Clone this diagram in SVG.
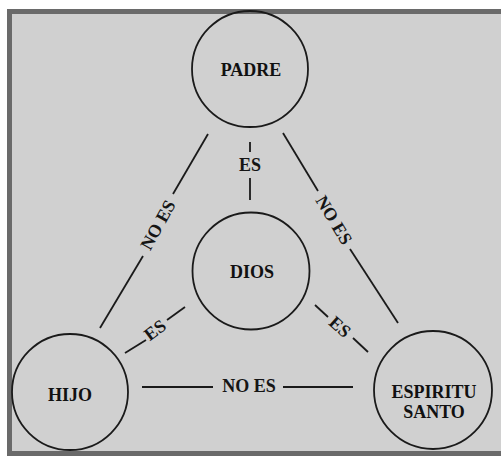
<svg xmlns="http://www.w3.org/2000/svg" width="501" height="457" viewBox="0 0 501 457">
<style>
.node circle{fill:none;stroke:#1a1a1a;stroke-width:1.8}
.nl{font-family:"Liberation Serif","Times New Roman",serif;font-weight:bold;font-size:18px;fill:#111;text-anchor:middle;dominant-baseline:central}
.cl{font-family:"Liberation Serif","Times New Roman",serif;font-weight:bold;font-size:18px;fill:#151515;text-anchor:middle;dominant-baseline:central}
#connectors line{stroke:#1a1a1a;stroke-width:1.8}
</style>
<rect x="0" y="0" width="501" height="457" fill="#ffffff"/>
<rect x="9.5" y="11.5" width="520" height="442" fill="#d0d0d0" stroke="#6a6a6a" stroke-width="5"/>
<g id="connectors">
  <line x1="208" y1="134" x2="173" y2="194"/>
  <line x1="143" y1="256" x2="100" y2="328"/>
  <line x1="283" y1="133" x2="318" y2="191"/>
  <line x1="350" y1="249" x2="398" y2="323"/>
  <line x1="250" y1="142" x2="250" y2="152"/>
  <line x1="250" y1="178" x2="250" y2="200"/>
  <line x1="125" y1="353" x2="146" y2="340"/>
  <line x1="167" y1="320" x2="185" y2="307"/>
  <line x1="315" y1="305" x2="328" y2="317"/>
  <line x1="353" y1="338" x2="368" y2="352"/>
  <line x1="142" y1="387" x2="213" y2="387"/>
  <line x1="283" y1="387" x2="353" y2="387"/>
  <text class="cl" transform="translate(158,225) rotate(-61)">NO ES</text>
  <text class="cl" transform="translate(334,220) rotate(59)">NO ES</text>
  <text class="cl" x="250" y="165">ES</text>
  <text class="cl" transform="translate(155,330) rotate(-37)">ES</text>
  <text class="cl" transform="translate(340,327) rotate(42)">ES</text>
  <text class="cl" x="249" y="386">NO ES</text>
</g>
<g id="padre" class="node"><circle cx="250" cy="69" r="58"/><text class="nl" x="251" y="70">PADRE</text></g>
<g id="dios" class="node"><circle cx="251" cy="271" r="58.5"/><text class="nl" x="252" y="272">DIOS</text></g>
<g id="hijo" class="node"><circle cx="70" cy="392" r="58"/><text class="nl" x="70" y="395">HIJO</text></g>
<g id="espiritu" class="node"><circle cx="433" cy="390" r="59"/><text class="nl" x="434" y="392">ESPIRITU</text><text class="nl" x="434" y="412">SANTO</text></g>
</svg>
